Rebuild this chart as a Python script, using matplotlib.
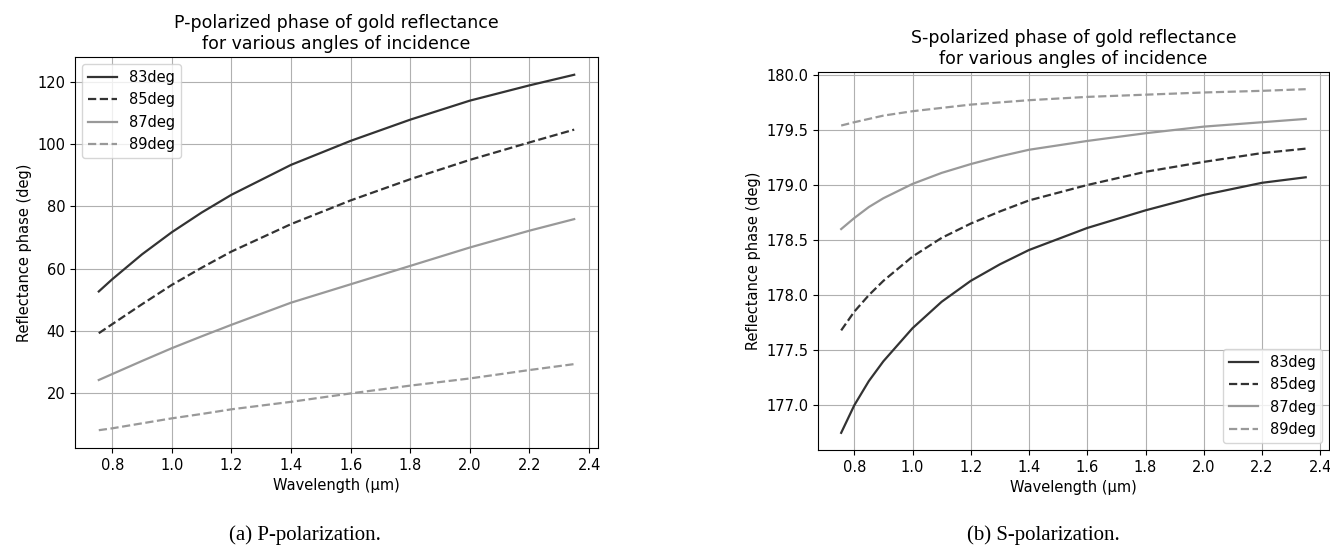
import matplotlib
matplotlib.use("Agg")
import matplotlib.pyplot as plt

# wavelengths (um)
wl_p = [0.755, 0.8, 0.9, 1.0, 1.1, 1.2, 1.4, 1.6, 1.8, 2.0, 2.2, 2.35]
wl_s = [0.755, 0.8, 0.85, 0.9, 1.0, 1.1, 1.2, 1.3, 1.4, 1.6, 1.8, 2.0, 2.2, 2.35]

labels = ["83deg", "85deg", "87deg", "89deg"]
colors = ["#333333", "#333333", "#999999", "#999999"]
styles = ["-", "--", "-", "--"]

# P-polarized reflectance phase (deg)
p_83 = [52.7, 56.6, 64.6, 71.7, 78.0, 83.7, 93.3, 101.0, 107.8, 113.9, 118.8, 122.2]
p_85 = [39.3, 42.2, 48.6, 54.8, 60.3, 65.5, 74.3, 81.9, 88.7, 94.9, 100.5, 104.6]
p_87 = [24.3, 26.2, 30.4, 34.5, 38.3, 42.0, 49.1, 55.0, 60.9, 66.8, 72.2, 75.9]
p_89 = [8.2, 8.8, 10.4, 12.0, 13.4, 14.9, 17.3, 20.0, 22.5, 24.8, 27.5, 29.4]

# S-polarized reflectance phase (deg)
s_83 = [176.75, 177.00, 177.22, 177.40, 177.70, 177.94, 178.13, 178.28, 178.41,
        178.61, 178.77, 178.91, 179.02, 179.07]
s_85 = [177.68, 177.85, 178.00, 178.13, 178.35, 178.52, 178.65, 178.76, 178.86,
        179.00, 179.12, 179.21, 179.29, 179.33]
s_87 = [178.60, 178.70, 178.80, 178.88, 179.01, 179.11, 179.19, 179.26, 179.32,
        179.40, 179.47, 179.53, 179.57, 179.60]
s_89 = [179.54, 179.57, 179.60, 179.63, 179.67, 179.70, 179.73, 179.75, 179.77,
        179.80, 179.82, 179.84, 179.855, 179.87]

fs = 10.5
fig = plt.figure(figsize=(13.3, 5.5), dpi=100)
ax1 = fig.add_axes([0.0564, 0.1855, 0.3932, 0.7109])
ax2 = fig.add_axes([0.615, 0.1818, 0.3842, 0.6873])

for y, lab, c, ls in zip([p_83, p_85, p_87, p_89], labels, colors, styles):
    ax1.plot(wl_p, y, color=c, linestyle=ls, linewidth=1.6, label=lab)
for y, lab, c, ls in zip([s_83, s_85, s_87, s_89], labels, colors, styles):
    ax2.plot(wl_s, y, color=c, linestyle=ls, linewidth=1.6, label=lab)

ax1.set_title("P-polarized phase of gold reflectance\nfor various angles of incidence",
              fontsize=12.5)
ax2.set_title("S-polarized phase of gold reflectance\nfor various angles of incidence",
              fontsize=12.5)
ax1.legend(loc="upper left", fontsize=fs)
ax2.legend(loc="lower right", fontsize=fs)

for ax in (ax1, ax2):
    ax.grid(True)
    ax.set_xlabel("Wavelength (μm)", fontsize=fs)
    ax.set_ylabel("Reflectance phase (deg)", fontsize=fs)
    ax.tick_params(labelsize=fs)

ax1.set_yticks([20, 40, 60, 80, 100, 120])
ax2.set_yticks([177.0, 177.5, 178.0, 178.5, 179.0, 179.5, 180.0])

fig.text(305 / 1330, 1 - 535 / 550, "(a) P-polarization.", ha="center", va="center",
         family="Liberation Serif", fontsize=15)
fig.text(1043 / 1330, 1 - 535 / 550, "(b) S-polarization.", ha="center", va="center",
         family="Liberation Serif", fontsize=15)

fig.savefig("out.png", dpi=100)
